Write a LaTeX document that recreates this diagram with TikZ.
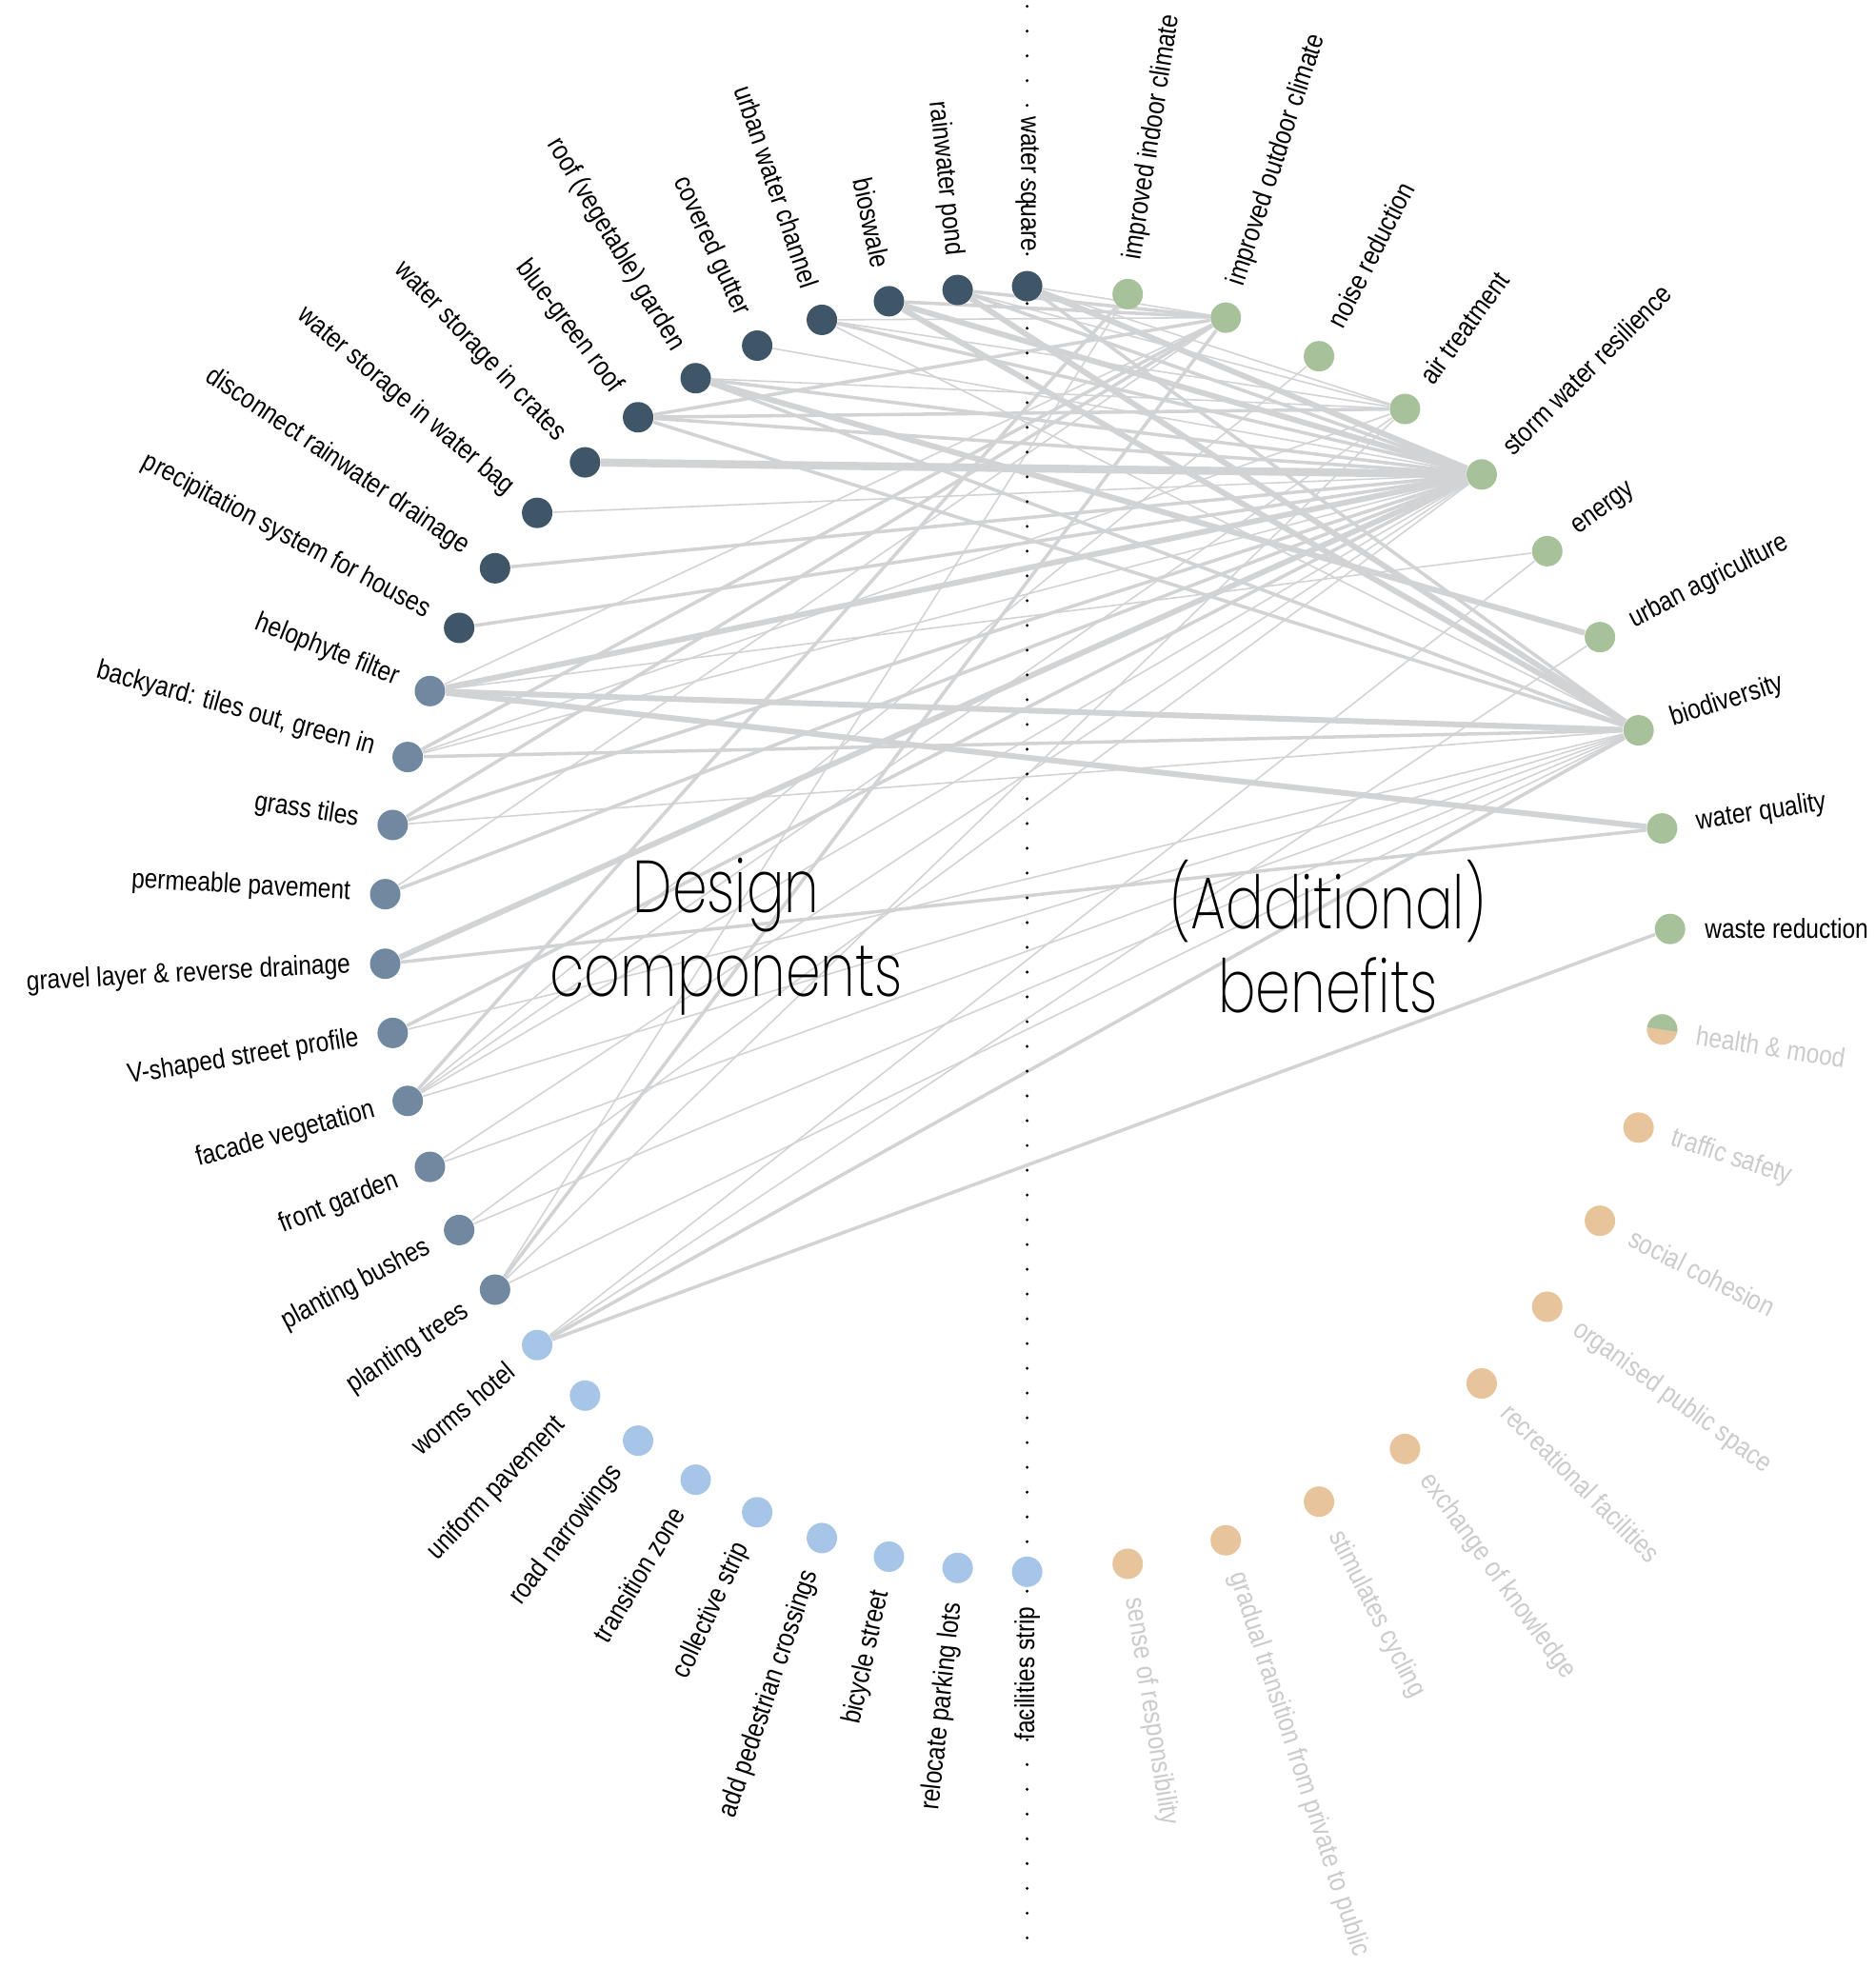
\documentclass[tikz,border=0pt]{standalone}
\usepackage{fontspec}
\setmainfont{Liberation Sans}[FakeStretch=0.85]
\IfFontExistsTF{Poppins ExtraLight}{\newfontfamily\bigfont{Poppins ExtraLight}[FakeStretch=0.76]}{%
  \IfFontExistsTF{Poppins Light}{\newfontfamily\bigfont{Poppins Light}[FakeStretch=0.76]}{\newfontfamily\bigfont{Poppins}[FakeStretch=0.76]}}
\usetikzlibrary{backgrounds}
\definecolor{navy}{HTML}{3F5668}
\definecolor{slate}{HTML}{7189A0}
\definecolor{sky}{HTML}{A7C5E7}
\definecolor{sage}{HTML}{A7C29A}
\definecolor{sand}{HTML}{E8C49C}
\definecolor{linkgray}{HTML}{D2D3D5}
\definecolor{faded}{HTML}{CBCBCB}

\begin{document}
\begin{tikzpicture}[
  dot/.style={circle,fill=#1,inner sep=0pt,minimum size=0.32cm},
  comp/.style={font=\fontsize{8.2}{10}\selectfont,inner sep=0pt,anchor=east},
  gain/.style={font=\fontsize{8.2}{10}\selectfont,inner sep=0pt,anchor=west},
  tie/.style={draw=linkgray},
  fine/.style={line width=0.45pt},
  mid/.style={line width=1.0pt},
  heavy/.style={line width=1.7pt},
  massive/.style={line width=2.4pt},
  divider/.style={line width=0.95pt,line cap=round,dash pattern=on 0pt off 7.4pt},
  title/.style={font=\bigfont\fontsize{22}{25}\selectfont,align=center},
  x=1cm,y=1cm
]
  \useasboundingbox (-10.786,-10.913) rectangle (8.914,9.757);
  \def\R{6.751}
  \def\Rt{7.11}

  \foreach \i/\name/\col in {0/water square/navy,1/rainwater pond/navy,2/bioswale/navy,
      3/urban water channel/navy,4/covered gutter/navy,5/roof (vegetable) garden/navy,
      6/blue-green roof/navy,7/water storage in crates/navy,8/water storage in water bag/navy,
      9/disconnect rainwater drainage/navy,10/precipitation system for houses/navy,
      11/helophyte filter/slate,12/{backyard: tiles out, green in}/slate,13/grass tiles/slate,
      14/permeable pavement/slate,15/gravel layer \& reverse drainage/slate,
      16/V-shaped street profile/slate,17/facade vegetation/slate,18/front garden/slate,
      19/planting bushes/slate,20/planting trees/slate,21/worms hotel/sky,
      22/uniform pavement/sky,23/road narrowings/sky,24/transition zone/sky,
      25/collective strip/sky,26/add pedestrian crossings/sky,27/bicycle street/sky,
      28/relocate parking lots/sky,29/facilities strip/sky} {
    \pgfmathsetmacro{\a}{90+180*\i/29}
    \node[dot=\col] (L\i) at (\a:\R) {};
    \node[comp,rotate=\a-180] (tL\i) at (\a:\Rt) {\name};
  }

  \foreach \k/\name/\col/\txt in {1/improved indoor climate/sage/black,
      2/improved outdoor climate/sage/black,3/noise reduction/sage/black,
      4/air treatment/sage/black,5/storm water resilience/sage/black,6/energy/sage/black,
      7/urban agriculture/sage/black,8/biodiversity/sage/black,9/water quality/sage/black,
      10/waste reduction/sage/black,11/health \& mood/sand/faded,12/traffic safety/sand/faded,
      13/social cohesion/sand/faded,14/organised public space/sand/faded,
      15/recreational facilities/sand/faded,16/exchange of knowledge/sand/faded,
      17/stimulates cycling/sand/faded,18/gradual transition from private to public/sand/faded,
      19/sense of responsibility/sand/faded} {
    \pgfmathsetmacro{\b}{90-9*\k}
    \node[dot=\col] (B\k) at (\b:\R) {};
    \node[gain,rotate=\b,text=\txt] (tB\k) at (\b:\Rt) {\name};
  }
  \fill[sage] (B11.center) ++(-9:0.16) arc[start angle=-9,end angle=171,radius=0.16] -- cycle;

  \begin{scope}[on background layer]
    \foreach \s/\t/\wt in {0/2/fine,0/4/fine,0/5/heavy,0/8/mid,
        1/2/mid,1/4/fine,1/5/mid,1/8/heavy,
        2/2/mid,2/5/heavy,2/8/heavy,
        3/2/fine,3/4/fine,3/5/mid,3/8/fine,
        4/5/fine,
        5/4/fine,5/5/mid,5/7/heavy,5/8/mid,
        6/2/mid,6/4/mid,6/5/mid,6/8/mid,
        7/5/massive,8/5/fine,9/5/mid,10/5/mid,
        11/2/fine,11/5/heavy,11/6/fine,11/8/heavy,11/9/heavy,
        12/2/mid,12/4/fine,12/5/fine,12/8/mid,
        13/2/mid,13/5/mid,13/8/fine,
        14/2/fine,14/5/mid,
        15/5/heavy,15/9/mid,
        16/5/mid,16/8/fine,
        17/1/mid,17/3/fine,17/4/fine,17/5/fine,17/8/fine,
        18/5/fine,18/8/fine,
        19/5/fine,19/8/fine,
        20/1/fine,20/2/mid,20/4/fine,20/8/fine,
        21/6/fine,21/7/fine,21/8/mid,21/10/mid}
      \draw[tie,\wt] (L\s) -- (B\t);
    \coordinate (top) at (0,9.69);
    \coordinate (bottom) at (0,-10.71);
    \draw[divider] (top) -- (bottom);
  \end{scope}

  \node[title] (design) at (-3.16,-0.08) {Design\\components};
  \node[title] (benefits) at (3.16,-0.08) {(Additional)\\benefits};
\end{tikzpicture}
\end{document}
